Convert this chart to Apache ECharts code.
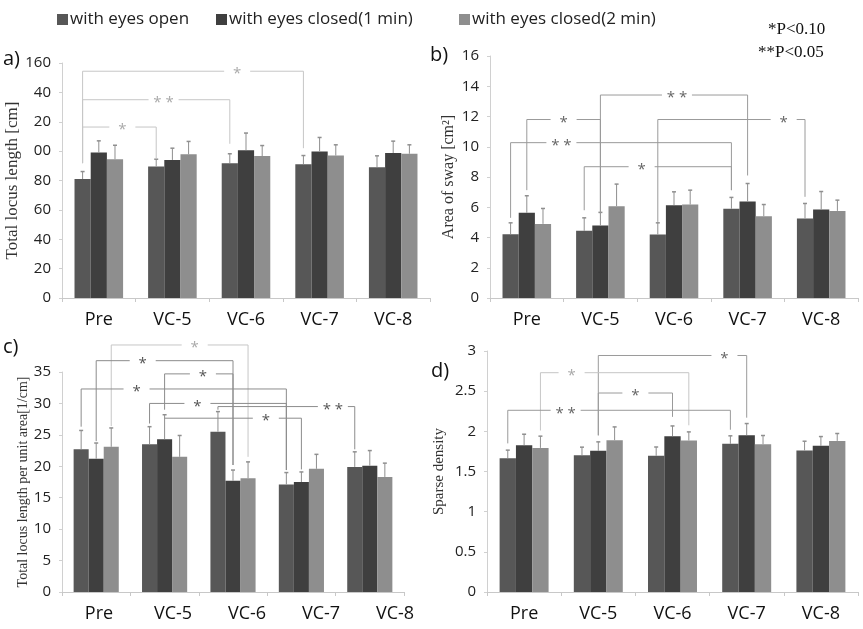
<!DOCTYPE html>
<html>
<head>
<meta charset="utf-8">
<script src="https://cdn.jsdelivr.net/npm/echarts@6/dist/echarts.min.js"></script>
<style>
  html, body { margin: 0; background: #fff; }
  #main { width: 863px; height: 629px; }
</style>
</head>
<body>
<div id="main"></div>
<script>
// categories and series
const categories = ['Pre', 'VC-5', 'VC-6', 'VC-7', 'VC-8'];
const seriesNames = ['with eyes open', 'with eyes closed(1 min)', 'with eyes closed(2 min)'];

// a) total locus length [cm]
const lengthOpen = [81, 89.5, 91.8, 91.1, 89.1];
const lengthClosed1 = [99, 94, 100.6, 99.8, 98.7];
const lengthClosed2 = [94.5, 97.8, 96.6, 97, 98.2];
const lengthSdOpen = [5.1, 5.0, 6.4, 5.9, 7.7];
const lengthSdClosed1 = [8, 8, 11.7, 9.5, 8.1];
const lengthSdClosed2 = [9.5, 8.8, 7.2, 7.3, 6.1];

// b) area of sway [cm2]
const areaOpen = [4.22, 4.44, 4.2, 5.9, 5.26];
const areaClosed1 = [5.63, 4.79, 6.14, 6.38, 5.85];
const areaClosed2 = [4.9, 6.07, 6.18, 5.41, 5.76];
const areaSdOpen = [0.75, 0.86, 0.77, 0.75, 0.99];
const areaSdClosed1 = [1.13, 0.87, 0.88, 1.19, 1.19];
const areaSdClosed2 = [1.02, 1.46, 0.95, 0.77, 0.71];

// c) total locus length per unit area [1/cm]
const perAreaOpen = [22.7, 23.5, 25.5, 17.1, 19.9];
const perAreaClosed1 = [21.2, 24.3, 17.7, 17.5, 20.1];
const perAreaClosed2 = [23.1, 21.5, 18.1, 19.6, 18.3];
const perAreaSdOpen = [3.0, 2.8, 3.2, 1.9, 2.4];
const perAreaSdClosed1 = [2.5, 3.9, 1.7, 1.6, 2.4];
const perAreaSdClosed2 = [3.0, 3.4, 2.6, 2.3, 2.2];

// d) sparse density
const densityOpen = [1.666, 1.703, 1.695, 1.844, 1.762];
const densityClosed1 = [1.827, 1.757, 1.94, 1.952, 1.819];
const densityClosed2 = [1.794, 1.89, 1.886, 1.84, 1.881];
const densitySdOpen = [0.10, 0.10, 0.11, 0.10, 0.115];
const densitySdClosed1 = [0.137, 0.112, 0.127, 0.145, 0.116];
const densitySdClosed2 = [0.146, 0.165, 0.107, 0.108, 0.092];

// significance brackets:
// [fromCat, fromSeries, toCat, toSeries, level, fromBottom, toBottom, mark, markPos, light]
const lengthBrackets = [
  [0, 0, 1, 0, 116.4, 91.8, 95.2, '*', 0.54, 1],
  [0, 0, 2, 0, 135, 91.8, 105, '**', 0.55, 1],
  [0, 0, 3, 0, 154.4, 91.8, 102, '*', 0.70, 1]
];
const areaBrackets = [
  [1, 1, 3, 1, 13.42, 5.59, 8.1, '**', 0.52, 0],
  [0, 1, 1, 1, 11.8, 7.13, 5.59, '*', 0.5, 0],
  [0, 0, 3, 0, 10.27, 5.3, 7.13, '**', 0.23, 0],
  [1, 0, 3, 0, 8.68, 5.8, 7.13, '*', 0.39, 0],
  [2, 0, 4, 0, 11.8, 5.03, 6.69, '*', 0.855, 0]
];
const perAreaBrackets = [
  [0, 2, 2, 2, 39.3, 26.4, 21.5, '*', 0.61, 1],
  [0, 1, 2, 1, 36.8, 24.0, 20.2, '*', 0.34, 0],
  [1, 1, 2, 1, 34.7, 29.0, 20.2, '*', 0.56, 0],
  [0, 0, 3, 0, 32.3, 26.3, 19.4, '*', 0.27, 0],
  [1, 0, 3, 0, 30.0, 26.8, 19.4, '*', 0.35, 0],
  [2, 0, 4, 0, 29.5, 29.0, 22.7, '**', 0.84, 0],
  [1, 1, 3, 1, 27.65, 27.65, 19.5, '*', 0.74, 0]
];
const densityBrackets = [
  [1, 1, 3, 1, 2.944, 1.95, 2.17, '*', 0.85, 0],
  [0, 2, 2, 2, 2.73, 2.01, 2.075, '*', 0.21, 1],
  [1, 1, 2, 1, 2.477, 1.95, 2.18, '*', 0.5, 0],
  [0, 0, 3, 0, 2.262, 1.85, 2.02, '**', 0.26, 0]
];

const barColors = ['#575757', '#3f3f3f', '#8e8e8e'];
const GAP = 0.34;
const SANS = 'Open Sans';
const SERIF = 'Liberation Serif';

const panels = [
  {
    means: [lengthOpen, lengthClosed1, lengthClosed2],
    sds: [lengthSdOpen, lengthSdClosed1, lengthSdClosed2],
    brackets: lengthBrackets,
    grid: { left: 62, top: 63, width: 368, height: 235 },
    y: { min: 0, max: 160, interval: 20, name: 'Total locus length [cm]', nameSize: 17, nameGap: 29 },
    lineColor: '#ababab', starColor: '#8a8a8a'
  },
  {
    means: [areaOpen, areaClosed1, areaClosed2],
    sds: [areaSdOpen, areaSdClosed1, areaSdClosed2],
    brackets: areaBrackets,
    grid: { left: 490, top: 56, width: 368, height: 242 },
    y: { min: 0, max: 16, interval: 2, name: 'Area of sway [cm²]', nameSize: 16, nameGap: 33 },
    lineColor: '#9a9a9a', starColor: '#666'
  },
  {
    means: [perAreaOpen, perAreaClosed1, perAreaClosed2],
    sds: [perAreaSdOpen, perAreaSdClosed1, perAreaSdClosed2],
    brackets: perAreaBrackets,
    grid: { left: 62, top: 372, width: 342, height: 220 },
    y: { min: 0, max: 35, interval: 5, name: 'Total locus length per unit area[1/cm]', nameSize: 14, nameGap: 32 },
    lineColor: '#8c8c8c', starColor: '#555'
  },
  {
    means: [densityOpen, densityClosed1, densityClosed2],
    sds: [densitySdOpen, densitySdClosed1, densitySdClosed2],
    brackets: densityBrackets,
    grid: { left: 487, top: 351, width: 371, height: 241 },
    y: { min: 0, max: 3, interval: 0.5, name: 'Sparse density', nameSize: 15, nameGap: 40 },
    lineColor: '#9a9a9a', starColor: '#666'
  }
];

function barX(api, cat, ser) {
  const band = api.size([1, 0])[0];
  const bw = band * (1 - GAP) / 3;
  return api.coord([cat, 0])[0] + (ser - 1) * bw;
}

function renderError(params, api) {
  const c = api.value(0), s = api.value(1), m = api.value(2), sd = api.value(3);
  const x = barX(api, c, s);
  const y0 = api.coord([c, m])[1];
  const y1 = api.coord([c, m + sd])[1];
  const st = { stroke: '#8f8f8f', lineWidth: 1 };
  return {
    type: 'group',
    children: [
      { type: 'line', shape: { x1: x, y1: y0, x2: x, y2: y1 }, style: st },
      { type: 'line', shape: { x1: x - 2, y1: y1, x2: x + 2, y2: y1 }, style: { stroke: '#8f8f8f', lineWidth: 1.5 } }
    ]
  };
}

function bracketRenderer(panel) {
  return function (params, api) {
    const b = panel.brackets[params.dataIndex];
    const xa = barX(api, b[0], b[1]);
    const xb = barX(api, b[2], b[3]);
    const y = api.coord([b[0], b[4]])[1];
    const ya = api.coord([b[0], b[5]])[1];
    const yb = api.coord([b[0], b[6]])[1];
    const lx = xa + b[8] * (xb - xa);
    const half = b[7].length > 1 ? 15 : 13;
    const stroke = b[9] ? '#c6c6c6' : panel.lineColor;
    const st = { stroke: stroke, lineWidth: 1 };
    return {
      type: 'group',
      children: [
        { type: 'line', shape: { x1: xa, y1: ya, x2: xa, y2: y }, style: st },
        { type: 'line', shape: { x1: xa, y1: y, x2: lx - half, y2: y }, style: st },
        { type: 'line', shape: { x1: lx + half, y1: y, x2: xb, y2: y }, style: st },
        { type: 'line', shape: { x1: xb, y1: y, x2: xb, y2: yb }, style: st },
        {
          type: 'text',
          style: {
            text: b[7].split('').join(' '), x: lx, y: y + 3,
            align: 'center', verticalAlign: 'middle',
            font: '15px ' + SANS, fill: b[9] ? '#aaaaaa' : panel.starColor
          }
        }
      ]
    };
  };
}

const chartDom = document.getElementById('main');
const myChart = echarts.init(chartDom, null, { renderer: 'canvas' });

const grids = [], xAxes = [], yAxes = [], series = [];
panels.forEach(function (p, gi) {
  grids.push(p.grid);
  xAxes.push({
    type: 'category', gridIndex: gi, data: categories,
    axisLine: { lineStyle: { color: '#c8c8c8' } },
    axisTick: { show: true, length: 4, lineStyle: { color: '#c8c8c8' } },
    axisLabel: { show: gi !== 2, fontSize: 18, color: '#111', fontFamily: SANS, margin: 13 }
  });
  yAxes.push({
    type: 'value', gridIndex: gi, min: p.y.min, max: p.y.max, interval: p.y.interval,
    name: p.y.name, nameLocation: 'middle', nameGap: p.y.nameGap,
    nameTextStyle: { fontFamily: SERIF, fontSize: p.y.nameSize, color: '#333' },
    axisLine: { show: true, lineStyle: { color: '#d0d0d0' } },
    axisTick: { show: true, length: 3, lineStyle: { color: '#d0d0d0' } },
    splitLine: { show: false },
    axisLabel: {
      fontSize: 15, color: '#222', fontFamily: SANS, margin: 11,
      formatter: gi === 0
        ? function (v) { return (v >= 100 && v < 160) ? String(v).slice(1) : String(v); }
        : null
    }
  });
  p.means.forEach(function (arr, si) {
    series.push({
      type: 'bar', name: seriesNames[si], xAxisIndex: gi, yAxisIndex: gi,
      data: arr, barGap: '0%', barCategoryGap: (GAP * 100) + '%',
      itemStyle: { color: barColors[si] }, silent: true
    });
  });
  const errData = [];
  p.means.forEach(function (arr, si) {
    arr.forEach(function (m, ci) { errData.push([ci, si, m, p.sds[si][ci]]); });
  });
  series.push({
    type: 'custom', xAxisIndex: gi, yAxisIndex: gi, z: 3, silent: true,
    renderItem: renderError, encode: { x: 0, y: 2 }, data: errData
  });
  series.push({
    type: 'custom', xAxisIndex: gi, yAxisIndex: gi, z: 4, silent: true,
    renderItem: bracketRenderer(p), encode: { x: 0, y: 1 },
    data: p.brackets.map(function (b) { return [b[0], b[4]]; })
  });
});

// c) category labels sit on a wider spacing than its bars
grids.push({ left: 62, top: 372, width: 370, height: 220 });
xAxes.push({
  type: 'category', gridIndex: 4, data: categories,
  axisLine: { show: false }, axisTick: { show: false },
  axisLabel: { fontSize: 18, color: '#111', fontFamily: SANS, margin: 13 }
});
yAxes.push({ type: 'value', gridIndex: 4, show: false, min: 0, max: 1 });

const legendLefts = [52, 211, 454];
const option = {
  animation: false,
  backgroundColor: '#fff',
  legend: seriesNames.map(function (n, i) {
    return {
      data: [n], left: legendLefts[i], top: 6, icon: 'rect',
      itemWidth: 11, itemHeight: 11, selectedMode: false,
      textStyle: { fontSize: 17, color: '#222', fontFamily: SANS, padding: [0, 0, 0, -3] }
    };
  }),
  grid: grids,
  xAxis: xAxes,
  yAxis: yAxes,
  series: series,
  graphic: [
    { type: 'text', left: 3, top: 49, style: { text: 'a)', font: '20px ' + SANS, fill: '#111' } },
    { type: 'text', left: 430, top: 45, style: { text: 'b)', font: '20px ' + SANS, fill: '#111' } },
    { type: 'text', left: 3, top: 337, style: { text: 'c)', font: '20px ' + SANS, fill: '#111' } },
    { type: 'text', left: 431, top: 361, style: { text: 'd)', font: '20px ' + SANS, fill: '#111' } },
    { type: 'text', left: 768, top: 21, style: { text: '*P<0.10', font: '17px ' + SERIF, fill: '#111' } },
    { type: 'text', left: 758, top: 44, style: { text: '**P<0.05', font: '17px ' + SERIF, fill: '#111' } }
  ]
};

myChart.setOption(option);
window.addEventListener('resize', function () { myChart.resize(); });
</script>
</body>
</html>
